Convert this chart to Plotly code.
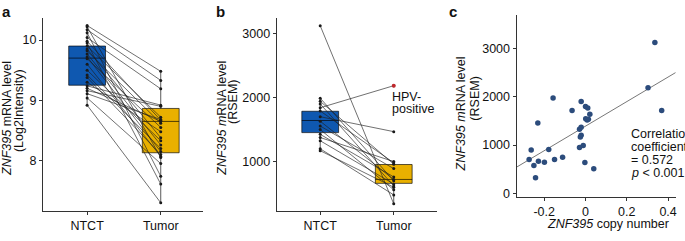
import plotly.graph_objects as go

W, H = 685, 241
categories = ["NTCT", "Tumor"]

# Panel a: paired Log2Intensity values
ntct_a = [10.24, 10.22, 10.17, 10.12, 10.04, 9.98, 9.95, 9.90, 9.85, 9.82, 9.77, 9.72,
          9.69, 9.60, 9.50, 9.42, 9.38, 9.30, 9.24, 9.20, 9.16, 9.11, 9.04, 8.92]
tumor_a = [9.48, 8.05, 9.33, 7.74, 9.19, 8.67, 7.61, 8.72, 8.38, 8.62, 8.26, 8.15,
           8.55, 8.07, 8.33, 8.20, 8.10, 8.48, 8.92, 8.65, 8.90, 8.68, 7.95, 7.30]
box_a_q1 = [9.25, 8.13]
box_a_med = [9.70, 8.65]
box_a_q3 = [9.90, 8.865]
box_a_lo = [8.92, 7.30]
box_a_hi = [10.24, 9.48]

# Panel b: paired RSEM values
ntct_b = [3120, 1990, 1940, 1900, 1840, 1790, 1700, 1630, 1555, 1500, 1425, 1375, 1325, 1200, 1170]
tumor_b = [340, 700, 960, 620, 2184, 980, 1467, 720, 890, 560, 760, 1000, 650, 480, 600]
hpv_index = 4
box_b_q1 = [1452, 660]
box_b_med = [1641, 721]
box_b_q3 = [1785, 954]
box_b_lo = [1170, 340]
box_b_hi = [1990, 1000]

# Panel c: copy number vs RSEM
copy_num = [0.336, 0.303, 0.369, -0.157, -0.021, -0.065, 0.000, 0.011, 0.021, 0.001, 0.008,
            0.014, -0.231, -0.021, -0.029, -0.021, -0.025, -0.011, -0.029, -0.263, -0.178,
            -0.111, -0.150, -0.273, -0.228, -0.199, -0.003, -0.250, 0.040, -0.242]
rsem_c = [3124, 2187, 1718, 1976, 1902, 1718, 1800, 1766, 1637, 1548, 1521, 1534, 1460,
          1372, 1330, 1202, 1169, 992, 951, 896, 910, 747, 700, 700, 666, 646, 639, 578, 509, 326]
# fitted line as drawn in the figure
fit_intercept = 1392
fit_slope = 2542

BLUE = "#0f58b0"
YELLOW = "#e9b000"
FONT = "Liberation Sans, Arial, sans-serif"
AXC = "#333333"

fig = go.Figure()

def add_boxes(xa, ya, q1, med, q3, lo, hi):
    for i, (c, col) in enumerate(zip(categories, [BLUE, YELLOW])):
        fig.add_trace(go.Box(
            x=[c], q1=[q1[i]], median=[med[i]], q3=[q3[i]],
            lowerfence=[lo[i]], upperfence=[hi[i]],
            fillcolor=col, line=dict(color="rgba(0,0,0,0.65)", width=1),
            whiskerwidth=0, width=0.5, boxpoints=False,
            xaxis=xa, yaxis=ya, showlegend=False, hoverinfo="skip"))

def add_pairs(xa, ya, a_vals, b_vals):
    xs, ys = [], []
    for a, b in zip(a_vals, b_vals):
        xs += [categories[0], categories[1], None]
        ys += [a, b, None]
    fig.add_trace(go.Scatter(
        x=xs, y=ys, mode="lines+markers",
        line=dict(color="rgba(30,30,30,0.8)", width=0.8),
        marker=dict(color="#1a1a1a", size=3),
        xaxis=xa, yaxis=ya, showlegend=False, hoverinfo="skip"))

add_boxes("x", "y", box_a_q1, box_a_med, box_a_q3, box_a_lo, box_a_hi)
add_pairs("x", "y", ntct_a, tumor_a)

add_boxes("x2", "y2", box_b_q1, box_b_med, box_b_q3, box_b_lo, box_b_hi)
add_pairs("x2", "y2", ntct_b, tumor_b)
fig.add_trace(go.Scatter(
    x=[categories[1]], y=[tumor_b[hpv_index]], mode="markers",
    marker=dict(color="#c0282d", size=4), xaxis="x2", yaxis="y2",
    showlegend=False, hoverinfo="skip"))

# Panel c
xr = [-0.334, 0.437]
fig.add_trace(go.Scatter(
    x=xr, y=[fit_intercept + fit_slope * v for v in xr], mode="lines",
    line=dict(color="#777777", width=1), xaxis="x3", yaxis="y3",
    showlegend=False, hoverinfo="skip"))
fig.add_trace(go.Scatter(
    x=copy_num, y=rsem_c, mode="markers",
    marker=dict(color="#2c4c7c", size=5.5), xaxis="x3", yaxis="y3",
    showlegend=False, hoverinfo="skip"))

def px(x):
    return x / W

def py(y):
    return 1 - y / H

axis_common = dict(showline=True, linecolor=AXC, linewidth=1, ticks="outside",
                   ticklen=3, tickcolor=AXC, tickwidth=1, showgrid=False, zeroline=False,
                   tickfont=dict(family=FONT, size=12.5, color="#111111"), fixedrange=True)

fig.update_layout(
    width=W, height=H, margin=dict(l=0, r=0, t=0, b=0),
    paper_bgcolor="white", plot_bgcolor="white",
    font=dict(family=FONT, size=12, color="#111111"),
    xaxis=dict(domain=[px(43), px(203)], anchor="y", type="category",
               categoryorder="array", categoryarray=categories,
               range=[-0.6, 1.57], **axis_common),
    yaxis=dict(domain=[py(215), py(18)], anchor="x", range=[7.157, 10.37],
               tickvals=[8, 9, 10], **axis_common),
    xaxis2=dict(domain=[px(277), px(438)], anchor="y2", type="category",
                categoryorder="array", categoryarray=categories,
                range=[-0.593, 1.593], **axis_common),
    yaxis2=dict(domain=[py(215), py(18)], anchor="x2", range=[222, 3245],
                tickvals=[1000, 2000, 3000], **axis_common),
    xaxis3=dict(domain=[px(517.3), px(676.7)], anchor="y3", range=xr,
                tickvals=[-0.2, 0, 0.2, 0.4], ticktext=["-0.2", "0", "0.2", "0.4"],
                **axis_common),
    yaxis3=dict(domain=[py(200), py(15)], anchor="x3", range=[-68, 3699],
                tickvals=[0, 1000, 2000, 3000], **axis_common),
)

ann = []
def A(text, x, y, xref="paper", yref="paper", xanchor="center", yanchor="middle",
      size=12.5, angle=0, bold=False):
    ann.append(dict(text=f"<b>{text}</b>" if bold else text, x=x, y=y, xref=xref, yref=yref,
                    xanchor=xanchor, yanchor=yanchor, showarrow=False, textangle=angle,
                    font=dict(family=FONT, size=size, color="#111111")))

# panel letters
A("a", px(7), py(12), size=15, bold=True)
A("b", px(221), py(12), size=15, bold=True)
A("c", px(454), py(12), size=15, bold=True)

# y titles
A("<i>ZNF395</i> mRNA level", px(7), py(120), angle=-90)
A("(Log2Intensity)", px(19), py(112), angle=-90)
A("<i>ZNF395 m</i>RNA level", px(222), py(120), angle=-90)
A("(RSEM)", px(234), py(104), angle=-90)
A("<i>ZNF395 m</i>RNA level", px(462), py(116), angle=-90)
A("(RSEM)", px(476), py(100), angle=-90)

# x title panel c
A("<i>ZNF395</i> copy number", px(609), py(227.5))

# HPV label
A("HPV-", 0.955, 2000, xref="x2", yref="y2", xanchor="left")
A("positive", 0.955, 1816, xref="x2", yref="y2", xanchor="left")

# correlation text
A("Correlation", 0.2097, 1236, xref="x3", yref="y3", xanchor="left")
A("coefficient", 0.2097, 965, xref="x3", yref="y3", xanchor="left")
A("= 0.572", 0.2097, 700, xref="x3", yref="y3", xanchor="left")
A("<i>p</i> &lt; 0.001", 0.2097, 428, xref="x3", yref="y3", xanchor="left")

fig.update_layout(annotations=ann)
fig.write_html("out.html", config={"displayModeBar": False})

# remove default page margin so the figure sits at the window's top-left corner
with open("out.html", "r", encoding="utf-8") as f:
    html = f.read()
html = html.replace("<head>", "<head><style>html,body{margin:0;padding:0;overflow:hidden;}</style>", 1)
with open("out.html", "w", encoding="utf-8") as f:
    f.write(html)
